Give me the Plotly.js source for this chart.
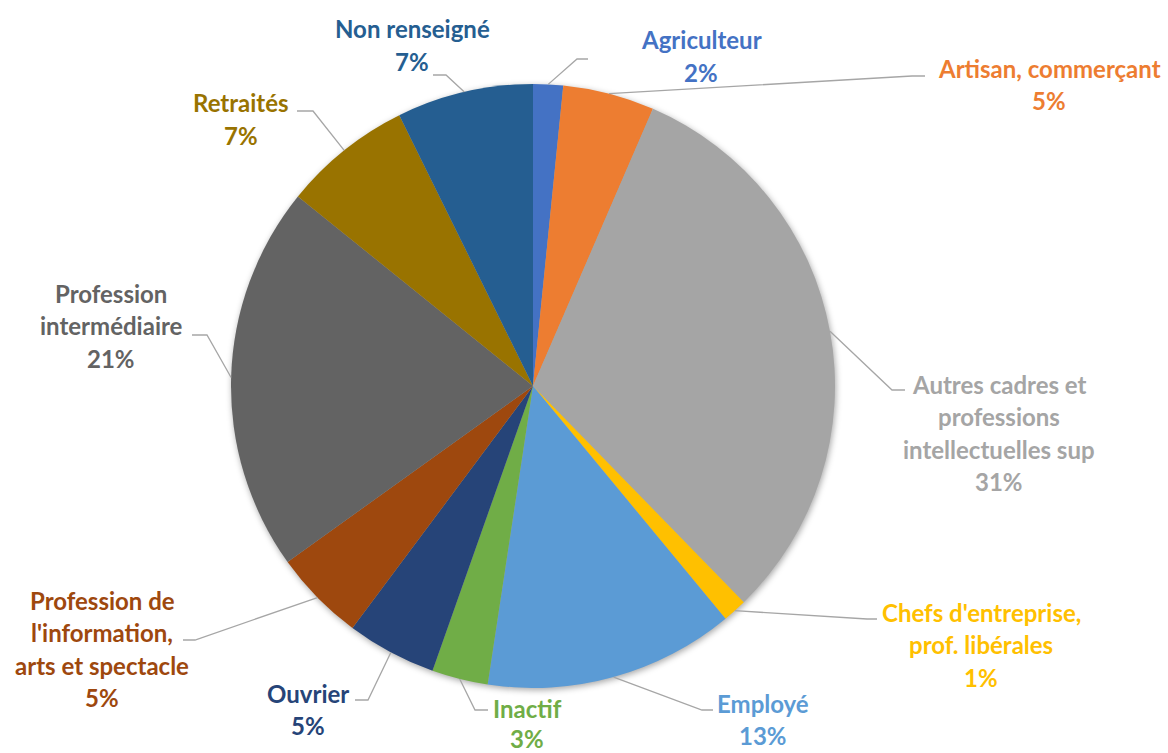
<!DOCTYPE html>
<html><head><meta charset="utf-8">
<script src="https://cdn.plot.ly/plotly-3.0.1.min.js"></script>
<style>
html,body{margin:0;padding:0;background:#fff}
#chart{width:1168px;height:753px}
.pielayer .trace{filter:drop-shadow(1px 2px 3px rgba(0,0,0,0.35));}
</style>
</head><body><div id="chart"></div>
<script>
// ---- data ----
const categories = ["Agriculteur", "Artisan, commerçant", "Autres cadres et professions intellectuelles sup",
  "Chefs d'entreprise, prof. libérales", "Employé", "Inactif", "Ouvrier",
  "Profession de l'information, arts et spectacle", "Profession intermédiaire", "Retraités", "Non renseigné"];
const values = [1.6, 4.9, 31.2, 1.3, 13.4, 3.0, 4.8, 4.9, 20.7, 6.9, 7.3];
const labelLines = [["Agriculteur"], ["Artisan, commerçant"], ["Autres cadres et", "professions", "intellectuelles sup"],
  ["Chefs d'entreprise,", "prof. libérales"], ["Employé"], ["Inactif"], ["Ouvrier"],
  ["Profession de", "l'information,", "arts et spectacle"], ["Profession", "intermédiaire"], ["Retraités"], ["Non renseigné"]];
const colors = ["#4472C4", "#ED7D31", "#A5A5A5", "#FFC000", "#5B9BD5", "#70AD47", "#264478",
  "#9E480E", "#636363", "#997300", "#255E91"];

// ---- layout (pixels) ----
const W = 1168, H = 753;
const CX = 533, CY = 386, R = 302;
// label block: center x, first-line center y, line gap, leader elbow and end
const labelPos = [
  {cx: 701, y0: 40, gap: 32.5, elbow: [577, 59], end: [588, 59]},
  {cx: 1049, y0: 68, gap: 32.5, elbow: [912, 76], end: [925, 76]},
  {cx: 999, y0: 384, gap: 32.5, elbow: [892, 390], end: [905, 390]},
  {cx: 981, y0: 612, gap: 32.5, elbow: [867, 619], end: [877, 619]},
  {cx: 763, y0: 703, gap: 32.5, elbow: [702, 710], end: [713, 710]},
  {cx: 527, y0: 708, gap: 30, elbow: [475, 710], end: [488, 710]},
  {cx: 308, y0: 693, gap: 32.5, elbow: [368, 700], end: [355, 700]},
  {cx: 102, y0: 600, gap: 32.5, elbow: [195, 640], end: [183, 640]},
  {cx: 111, y0: 293, gap: 32.5, elbow: [207, 335], end: [192, 335]},
  {cx: 241, y0: 103, gap: 32.5, elbow: [313, 111], end: [297, 111]},
  {cx: 412, y0: 29, gap: 32.5, elbow: [446, 75], end: [433, 75]}
];
const FONT = "Lato, 'Open Sans', sans-serif";

const px = x => x / W;
const py = y => 1 - y / H;

const total = values.reduce((a, b) => a + b, 0);
const annotations = [];
const shapes = [];
let cum = 0;
values.forEach((v, i) => {
  const mid = (cum + v / 2) / total * 2 * Math.PI;
  cum += v;
  const sx = CX + R * Math.sin(mid), sy = CY - R * Math.cos(mid);
  const p = labelPos[i];
  shapes.push({
    type: 'path', xref: 'paper', yref: 'paper',
    path: `M ${px(sx)} ${py(sy)} L ${px(p.elbow[0])} ${py(p.elbow[1])} L ${px(p.end[0])} ${py(p.end[1])}`,
    line: {color: '#A6A6A6', width: 1.3}
  });
  const lines = labelLines[i].concat([Math.round(v / total * 100) + '%']);
  lines.forEach((t, k) => {
    annotations.push({
      xref: 'paper', yref: 'paper', x: px(p.cx), y: py(p.y0 + k * p.gap),
      xanchor: 'center', yanchor: 'middle', showarrow: false,
      text: '<b>' + t + '</b>',
      font: {family: FONT, size: 24, color: colors[i]}
    });
  });
});

const trace = {
  type: 'pie', labels: categories, values: values, sort: false,
  direction: 'clockwise', rotation: 0, textinfo: 'none', hoverinfo: 'label+percent',
  marker: {colors: colors, line: {width: 0}},
  domain: {x: [px(CX - R), px(CX + R)], y: [py(CY + R), py(CY - R)]},
  automargin: false
};

Plotly.newPlot('chart', [trace], {
  width: W, height: H, margin: {l: 0, r: 0, t: 0, b: 0},
  paper_bgcolor: '#fff', showlegend: false,
  annotations: annotations, shapes: shapes
}, {staticPlot: true});
</script></body></html>
